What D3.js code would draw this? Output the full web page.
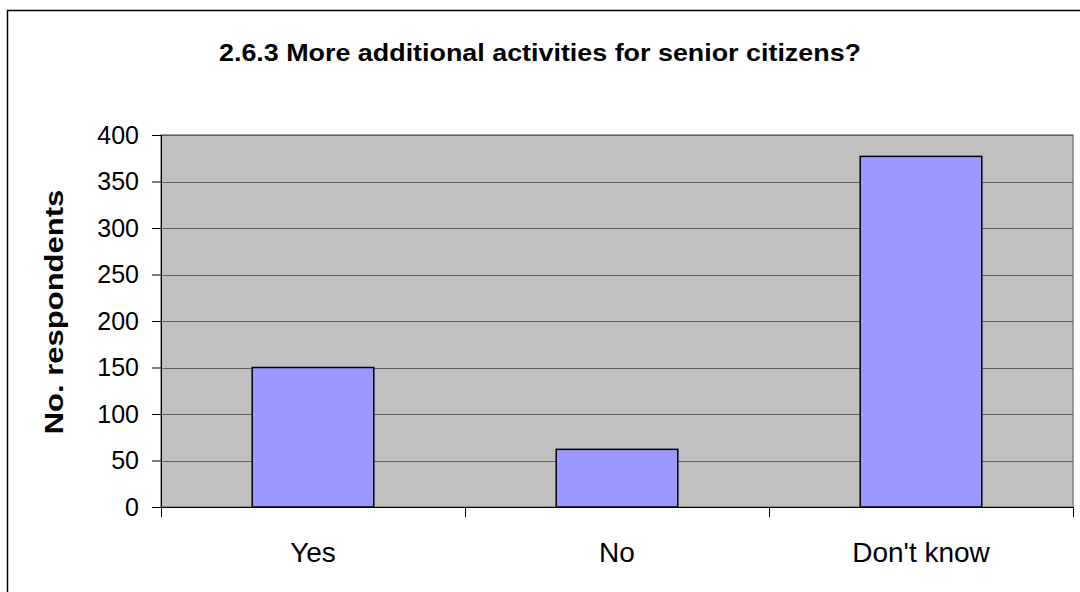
<!DOCTYPE html>
<html><head><meta charset="utf-8">
<script src="https://cdn.jsdelivr.net/npm/d3@7"></script>
<style>body{margin:0;background:#fff}svg{display:block}text{font-family:"Liberation Sans",Arial,sans-serif}</style>
</head><body>
<svg id="c" width="1080" height="592"></svg>
<script>
const categories = ["Yes", "No", "Don't know"];
const values = [150, 62, 377];
const yTicks = [0, 50, 100, 150, 200, 250, 300, 350, 400];
const title = "2.6.3 More additional activities for senior citizens?";
const yTitle = "No. respondents";

const svg = d3.select("#c");
const L = 161, R = 1073, T = 135, B = 507;
const FF = "Liberation Sans, Arial, sans-serif";

svg.append("rect").attr("x", 7.5).attr("y", 10.5).attr("width", 1080).attr("height", 600)
  .attr("fill", "#fff").attr("stroke", "#000").attr("stroke-width", 1.5);

const x = d3.scaleBand().domain(categories).range([L, R]).paddingInner(0.6).paddingOuter(0.3);
const xb = d3.scaleBand().domain(categories).range([L, R]);
const y = d3.scaleLinear().domain([0, 400]).range([B, T]);

svg.append("rect").attr("x", L).attr("y", T).attr("width", R - L).attr("height", B - T)
  .attr("fill", "#c0c0c0").attr("stroke", "#808080").attr("stroke-width", 1.5);

svg.append("g").selectAll("line").data(yTicks.filter(d => d > 0)).join("line")
  .attr("x1", L).attr("x2", R).attr("y1", d => Math.round(y(d)) + 0.5).attr("y2", d => Math.round(y(d)) + 0.5)
  .attr("stroke", "#606060").attr("stroke-width", 1);

svg.append("g").selectAll("rect").data(values).join("rect")
  .attr("x", (d, i) => x(categories[i]))
  .attr("width", x.bandwidth())
  .attr("y", d => y(d))
  .attr("height", d => B - y(d))
  .attr("fill", "#9999ff").attr("stroke", "#000").attr("stroke-width", 1.5);

// y axis
const ya = svg.append("g").attr("transform", `translate(${L},0)`)
  .call(d3.axisLeft(y).tickValues(yTicks).tickSize(9).tickPadding(13));
ya.attr("font-size", null).attr("font-family", null);
ya.select(".domain").attr("stroke", "#000");
ya.selectAll("line").attr("stroke", "#000");
ya.selectAll("text").style("font-size", "25px").attr("fill", "#000").style("font-family", FF);

// x axis
const xa = svg.append("g").attr("transform", `translate(0,${B})`)
  .call(d3.axisBottom(xb).tickSize(0));
xa.attr("font-size", null).attr("font-family", null);
xa.select(".domain").remove();
xa.selectAll("text").attr("dy", null).attr("y", 55).style("font-size", "28px").attr("fill", "#000").style("font-family", FF);
svg.append("line").attr("x1", L).attr("x2", R).attr("y1", B + 0.5).attr("y2", B + 0.5).attr("stroke", "#000");
svg.append("g").selectAll("line").data([0, 1, 2, 3]).join("line")
  .attr("x1", i => Math.round(L + i * xb.step()) + 0.5).attr("x2", i => Math.round(L + i * xb.step()) + 0.5)
  .attr("y1", B).attr("y2", B + 10).attr("stroke", "#000");

svg.append("text").attr("transform", "translate(540,61) scale(1.12,1)").attr("text-anchor", "middle")
  .style("font-size", "24px").attr("font-weight", "bold").text(title);

svg.append("text").attr("transform", `translate(63,312) rotate(-90) scale(1.24,1)`)
  .attr("text-anchor", "middle").style("font-size", "25px").attr("font-weight", "bold").text(yTitle);
</script>
</body></html>
